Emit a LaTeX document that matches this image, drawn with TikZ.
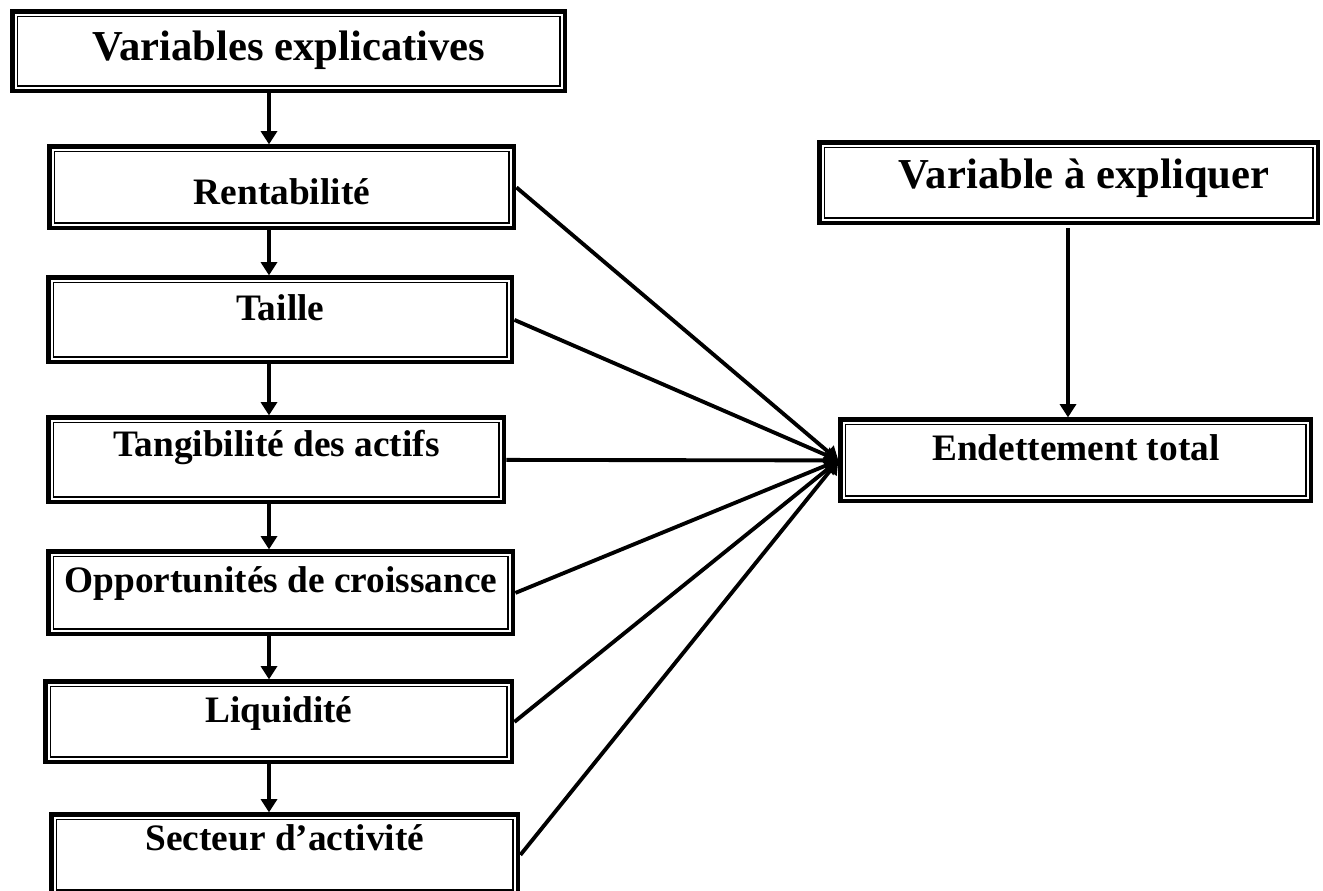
\documentclass[tikz,border=0pt]{standalone}
\usepackage{fontspec}
\setmainfont{Liberation Serif}
\usetikzlibrary{arrows.meta,positioning,calc}
\tikzstyle{cadre} = [rectangle, draw, line width=3.6pt, inner xsep=0pt, inner ysep=0pt, anchor=north west,
  font=\fontsize{28}{30}\selectfont\bfseries,
  path picture={\draw[line width=0.9pt] ([shift={(3.75pt,-3.75pt)}]path picture bounding box.north west) rectangle ([shift={(-3.75pt,3.75pt)}]path picture bounding box.south east);}]
\tikzstyle{titre} = [cadre, font=\fontsize{32}{35}\selectfont\bfseries]
\tikzstyle{fleche} = [->, line width=2.9pt]

\begin{document}
\begin{tikzpicture}[x=0.75pt, y=-0.75pt, >={Triangle[width=12pt,length=10pt]}]
    \useasboundingbox (0,0) rectangle (1323,890);
    % variables explicatives
    \node[titre, minimum width=414.15pt, text height=36.45pt, text depth=22.95pt] (expl) at (10.4,9.4) {Variables explicatives};
    \node[cadre, minimum width=348.15pt, text height=43.2pt, text depth=17.7pt] (rent) at (47.4,144.4) {Rentabilité};
    \node[cadre, minimum width=347.4pt, text height=31.95pt, text depth=31.2pt] (taille) at (46.4,275.4) {Taille};
    \node[cadre, minimum width=341.4pt, text height=28.95pt, text depth=34.2pt] (tang) at (46.4,415.4) {Tangibilité des actifs};
    \node[cadre, minimum width=348.15pt, text height=30.45pt, text depth=31.2pt] (opp) at (46.4,549.4) {Opportunités de croissance};
    \node[cadre, minimum width=349.65pt, text height=30.45pt, text depth=29.7pt] (liq) at (43.4,679.4) {Liquidité};
    \node[cadre, minimum width=349.65pt, text height=26.7pt, text depth=33.45pt] (sect) at (49.4,812.4) {Secteur d’activité};

    % variable a expliquer
    \node[titre, minimum width=373.65pt, text height=34.2pt, text depth=25.95pt] (varexp) at (817.4,140.4) {\hspace*{23pt}Variable à expliquer};
    \node[cadre, minimum width=352.65pt, text height=30.45pt, text depth=30.45pt] (endt) at (838.4,417.4) {Endettement total};

    % axes des fleches verticales
    \coordinate (axe) at (269,0);
    \coordinate (axe2) at (1068,0);

    % liaisons
    \draw[fleche] (expl.south -| axe) -- (rent.north -| axe);
    \draw[fleche] (rent.south -| axe) -- (taille.north -| axe);
    \draw[fleche] (taille.south -| axe) -- (tang.north -| axe);
    \draw[fleche] (tang.south -| axe) -- (opp.north -| axe);
    \draw[fleche] (opp.south -| axe) -- (liq.north -| axe);
    \draw[fleche] (liq.south -| axe) -- (sect.north -| axe);

    \draw[fleche] ([yshift=-2pt]varexp.south -| axe2) -- (endt.north -| axe2);

    \draw[fleche] (rent.east) -- (endt.west);
    \draw[fleche] (taille.east) -- (endt.west);
    \draw[fleche] (tang.east) -- (endt.west);
    \draw[fleche] (opp.east) -- (endt.west);
    \draw[fleche] (liq.east) -- (endt.west);
    \draw[fleche] (sect.east) -- (endt.west);
\end{tikzpicture}
\end{document}
